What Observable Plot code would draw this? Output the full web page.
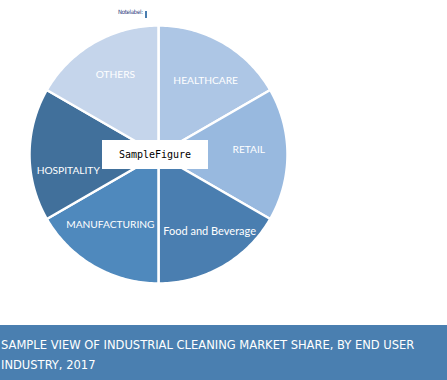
<!DOCTYPE html>
<html><head><meta charset="utf-8">
<script src="https://cdn.jsdelivr.net/npm/d3@7"></script>
<script src="https://cdn.jsdelivr.net/npm/@observablehq/plot@0.6"></script>
<style>
body{margin:0;background:#fff;width:447px;height:380px;overflow:hidden;position:relative}
#chart{position:absolute;left:0;top:0;width:447px;height:325px}
#banner{position:absolute;left:0;top:325px;width:447px;height:55px;background:#4a7fb0;color:#fff;font-family:"DejaVu Sans Condensed","DejaVu Sans",sans-serif;font-size:12.8px;line-height:19.5px;padding-top:10px;padding-left:1px;box-sizing:border-box}
#sample{position:absolute;left:102px;top:140px;width:106px;height:29px;background:#fff;font-family:"DejaVu Sans Mono",monospace;font-size:10px;color:#000;display:flex;align-items:center;justify-content:center}
#tiny{position:absolute;left:118px;top:8px;font-family:"DejaVu Sans Condensed";font-size:6px;color:#2a3a7a;letter-spacing:-0.3px}
#tinybar{position:absolute;left:145px;top:11px;width:2px;height:7px;background:#4a7eb0}
</style></head><body>
<div id="chart"></div>
<div id="tiny">Notelabel:</div><div id="tinybar"></div>
<div id="sample">SampleFigure</div>
<div id="banner">SAMPLE VIEW OF INDUSTRIAL CLEANING MARKET SHARE, BY END USER<br>INDUSTRY, 2017</div>
<script>
const categories = ["HEALTHCARE", "RETAIL", "Food and Beverage", "MANUFACTURING", "HOSPITALITY", "OTHERS"];
const shares = [1, 1, 1, 1, 1, 1];
const colors = ["#adc6e5", "#98b9df", "#4a7eb0", "#4f89bd", "#41709b", "#c5d5eb"];

// small label nudges (pixels) to mimic the original label placement
const nudge = {"HEALTHCARE": [2, 4], "RETAIL": [0, -5], "Food and Beverage": [6, -1], "MANUFACTURING": [-3, -8], "HOSPITALITY": [0, 16], "OTHERS": [2, -2]};

const arcs = d3.pie().sort(null).value(d => d)(shares);
const poly = [];
const labels = [];
arcs.forEach((a, i) => {
  const cat = categories[i];
  poly.push({cat, x: 0, y: 0});
  const steps = 60;
  for (let k = 0; k <= steps; k++) {
    const ang = a.startAngle + (a.endAngle - a.startAngle) * k / steps;
    poly.push({cat, x: Math.sin(ang), y: Math.cos(ang)});
  }
  poly.push({cat, x: 0, y: 0});
  const mid = (a.startAngle + a.endAngle) / 2;
  labels.push({cat, x: 0.7 * Math.sin(mid), y: 0.7 * Math.cos(mid)});
});

const chart = Plot.plot({
  width: 447,
  height: 325,
  margin: 0,
  style: {background: "transparent"},
  x: {domain: [-1, 1], range: [29, 287], axis: null},
  y: {domain: [-1, 1], range: [283, 25], axis: null},
  color: {domain: categories, range: colors},
  marks: [
    Plot.line(poly, {x: "x", y: "y", z: "cat", fill: "cat", stroke: "white", strokeWidth: 2.5, strokeLinejoin: "round", strokeLinecap: "round"}),
    ...labels.map(l => Plot.text([l], {
      x: "x", y: "y", text: "cat", fill: "white",
      fontSize: l.cat === "Food and Beverage" ? 11 : 10.2,
      fontFamily: "Lato",
      dx: nudge[l.cat][0], dy: nudge[l.cat][1]
    }))
  ]
});
document.getElementById("chart").appendChild(chart);
</script>
</body></html>
